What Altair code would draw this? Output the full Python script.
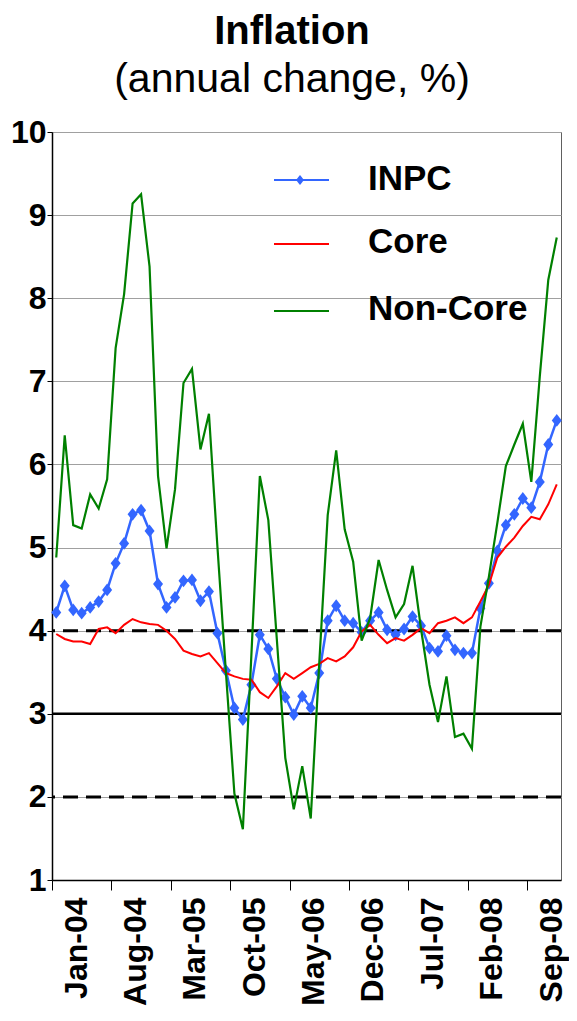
import altair as alt
import pandas as pd

# ---------------- data ----------------
inpc = [4.22, 4.54, 4.25, 4.21, 4.28, 4.35, 4.49, 4.81, 5.05, 5.40,
        5.45, 5.20, 4.56, 4.28, 4.40, 4.60, 4.61, 4.36, 4.47, 3.97,
        3.52, 3.07, 2.93, 3.35, 3.95, 3.78, 3.42, 3.20, 2.99, 3.21,
        3.07, 3.49, 4.12, 4.30, 4.12, 4.09, 3.98, 4.12, 4.22, 4.01,
        3.95, 4.02, 4.17, 4.06, 3.79, 3.75, 3.94, 3.77, 3.73, 3.73,
        4.27, 4.57, 4.96, 5.27, 5.40, 5.59, 5.48, 5.79, 6.24, 6.53]

core = [3.96, 3.90, 3.87, 3.87, 3.84, 4.02, 4.04, 3.97, 4.07, 4.14,
        4.10, 4.08, 4.07, 4.00, 3.90, 3.76, 3.72, 3.69, 3.73, 3.61,
        3.49, 3.45, 3.42, 3.41, 3.26, 3.19, 3.33, 3.49, 3.42, 3.49,
        3.56, 3.60, 3.67, 3.63, 3.69, 3.80, 3.99, 4.07, 3.95, 3.85,
        3.91, 3.88, 3.95, 4.03, 3.97, 4.09, 4.12, 4.16, 4.09, 4.16,
        4.35, 4.55, 4.88, 5.01, 5.12, 5.26, 5.37, 5.34, 5.52, 5.76]

noncore = [4.88, 6.35, 5.27, 5.23, 5.64, 5.47, 5.82, 7.40, 8.05, 9.14,
           9.25, 8.38, 5.86, 4.99, 5.70, 6.98, 7.15, 6.18, 6.61, 5.01,
           3.50, 2.04, 1.61, 3.70, 5.86, 5.33, 3.90, 2.47, 1.85, 2.37,
           1.74, 3.60, 5.39, 6.17, 5.22, 4.83, 3.88, 4.15, 4.85, 4.49,
           4.16, 4.32, 4.78, 4.02, 3.35, 2.90, 3.45, 2.72, 2.76, 2.58,
           4.05, 4.65, 5.30, 5.98, 6.24, 6.49, 5.79, 7.06, 8.22, 8.73]

tick_labels = ["Jan-04", "Aug-04", "Mar-05", "Oct-05", "May-06",
               "Dec-06", "Jul-07", "Feb-08", "Sep-08"]
series_names = ["INPC", "Core", "Non-Core"]
ref_dashed = [4, 2]
ref_solid = [3]
y_ticks = [1, 2, 3, 4, 5, 6, 7, 8, 9, 10]
title_text = "Inflation"
subtitle_text = "(annual change, %)"

# ---------------- styling ----------------
FONT = "Liberation Sans, Arial, sans-serif"
BLUE = "#3366ff"
RED = "#ff0000"
GREEN = "#008000"
W, H = 509, 748
DIAMOND = "M0,-1.28L1,0L0,1.28L-1,0Z"

n = len(inpc)
df = pd.DataFrame({"i": list(range(n)), "inpc": inpc, "core": core, "noncore": noncore})

x_scale = alt.Scale(domain=[-0.5, n - 0.5], nice=False, zero=False)
y_scale = alt.Scale(domain=[1, 10], nice=False, zero=False)

tick_vals = [-0.5 + 7 * k for k in range(len(tick_labels))]
label_expr = "[" + ",".join("'%s'" % t for t in tick_labels) + "][round((datum.value + 0.5) / 7)]"

x_axis = alt.Axis(values=tick_vals, labelExpr=label_expr, title=None, grid=False,
                  labelAngle=270, labelAlign="right", labelBaseline="middle",
                  labelOffset=24, labelPadding=7, tickSize=10,
                  labelFontSize=32, labelFontWeight="bold", labelFont=FONT,
                  labelColor="black", domainColor="black", domainWidth=1.5,
                  tickColor="black", tickWidth=1, labelOverlap=False,
                  labelFlush=False, labelBound=False)

y_axis = alt.Axis(values=y_ticks, title=None, grid=True, gridColor="#a0a0a0",
                  gridWidth=1, tickSize=5, labelPadding=1, labelFontSize=32,
                  labelFontWeight="bold", labelFont=FONT, labelColor="black",
                  domainColor="black", domainWidth=1.5, tickColor="black",
                  format="d", labelOverlap=False)

base = alt.Chart(df).encode(x=alt.X("i:Q", scale=x_scale, axis=x_axis))

def Y(field):
    return alt.Y(field + ":Q", scale=y_scale, axis=y_axis)

dashed = alt.Chart(pd.DataFrame({"v": ref_dashed})).mark_rule(
    color="black", strokeWidth=3, strokeDash=[15, 8]).encode(y=Y("v"))
solid = alt.Chart(pd.DataFrame({"v": ref_solid})).mark_rule(
    color="black", strokeWidth=2.5).encode(y=Y("v"))

inpc_line = base.mark_line(color=BLUE, strokeWidth=2.5).encode(y=Y("inpc"))
inpc_pts = base.mark_point(shape=DIAMOND, size=100, filled=True, color=BLUE,
                           opacity=1, strokeWidth=0).encode(y=Y("inpc"))
core_line = base.mark_line(color=RED, strokeWidth=2).encode(y=Y("core"))
nonc_line = base.mark_line(color=GREEN, strokeWidth=2.2).encode(y=Y("noncore"))

one = pd.DataFrame({"k": [0]})
legend_layers = []
leg_colors = [BLUE, RED, GREEN]
leg_line_y = [48, 112, 179]
leg_text_y = [58, 121, 188]
for name, c, ly, ty in zip(series_names, leg_colors, leg_line_y, leg_text_y):
    legend_layers.append(alt.Chart(one).mark_rule(color=c, strokeWidth=2).encode(
        x=alt.value(222), x2=alt.value(277), y=alt.value(ly)))
    legend_layers.append(alt.Chart(one).mark_text(
        align="left", baseline="alphabetic", fontSize=35, fontWeight="bold",
        font=FONT, color="black").encode(
        x=alt.value(316), y=alt.value(ty), text=alt.value(name)))
legend_layers.append(alt.Chart(one).mark_point(
    shape=DIAMOND, size=64, filled=True, color=BLUE, opacity=1, strokeWidth=0).encode(
    x=alt.value(248), y=alt.value(leg_line_y[0])))

title_mark = alt.Chart(one).mark_text(
    align="center", baseline="alphabetic", fontSize=40, fontWeight="bold",
    font=FONT, color="black").encode(x=alt.value(240), y=alt.value(-88),
                                      text=alt.value(title_text))
subtitle_mark = alt.Chart(one).mark_text(
    align="center", baseline="alphabetic", fontSize=41, fontWeight="normal",
    font=FONT, color="black").encode(x=alt.value(240), y=alt.value(-40),
                                      text=alt.value(subtitle_text))

chart = alt.layer(
    dashed, solid, inpc_line, inpc_pts, core_line, nonc_line,
    *legend_layers, title_mark, subtitle_mark
).properties(
    width=W, height=H,
    autosize=alt.AutoSizeParams(type="none"),
    padding={"left": 44, "top": 124, "right": 8, "bottom": 133},
    background="white",
).configure_view(stroke="#606060", strokeWidth=1)

chart.save("out.html", embed_options={"renderer": "svg", "actions": False})
